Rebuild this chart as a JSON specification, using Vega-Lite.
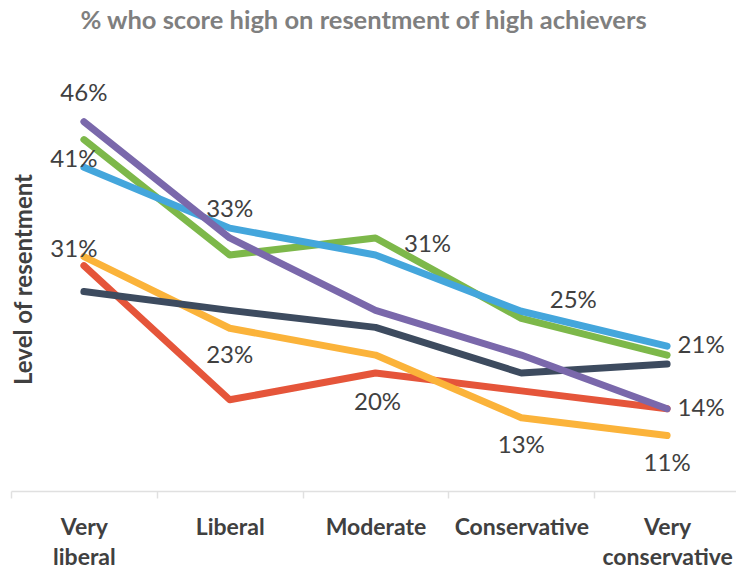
{
  "$schema": "https://vega.github.io/schema/vega-lite/v6.json",
  "autosize": "none",
  "width": 729,
  "height": 431,
  "padding": {"left": 11, "top": 60, "right": 0, "bottom": 78},
  "background": "white",
  "config": {"view": {"stroke": null}, "font": "Lato"},
  "title": {
    "text": "% who score high on resentment of high achievers",
    "font": "Lato",
    "fontSize": 25.5,
    "fontWeight": "bold",
    "color": "#7f7f7f",
    "anchor": "middle",
    "baseline": "alphabetic",
    "offset": 6,
    "dx": -12
  },
  "data": {
    "values": [
      {"series": "Group 1", "category": "Very liberal", "value": 30},
      {"series": "Group 1", "category": "Liberal", "value": 15},
      {"series": "Group 1", "category": "Moderate", "value": 18},
      {"series": "Group 1", "category": "Conservative", "value": 16},
      {"series": "Group 1", "category": "Very conservative", "value": 14},
      {"series": "Group 2", "category": "Very liberal", "value": 31, "label": "31%", "pos": "upperLeft"},
      {"series": "Group 2", "category": "Liberal", "value": 23, "label": "23%", "pos": "below"},
      {"series": "Group 2", "category": "Moderate", "value": 20, "label": "20%", "pos": "farBelow"},
      {"series": "Group 2", "category": "Conservative", "value": 13, "label": "13%", "pos": "below"},
      {"series": "Group 2", "category": "Very conservative", "value": 11, "label": "11%", "pos": "below"},
      {"series": "Group 3", "category": "Very liberal", "value": 27.1},
      {"series": "Group 3", "category": "Liberal", "value": 25},
      {"series": "Group 3", "category": "Moderate", "value": 23.1},
      {"series": "Group 3", "category": "Conservative", "value": 18},
      {"series": "Group 3", "category": "Very conservative", "value": 19},
      {"series": "Group 4", "category": "Very liberal", "value": 44.1},
      {"series": "Group 4", "category": "Liberal", "value": 31.2},
      {"series": "Group 4", "category": "Moderate", "value": 33.1},
      {"series": "Group 4", "category": "Conservative", "value": 24.1},
      {"series": "Group 4", "category": "Very conservative", "value": 20},
      {"series": "Group 5", "category": "Very liberal", "value": 41, "label": "41%", "pos": "upperLeft"},
      {"series": "Group 5", "category": "Liberal", "value": 34.2},
      {"series": "Group 5", "category": "Moderate", "value": 31.2, "label": "31%", "pos": "upperRight"},
      {"series": "Group 5", "category": "Conservative", "value": 24.9, "label": "25%", "pos": "upperRight"},
      {"series": "Group 5", "category": "Very conservative", "value": 21, "label": "21%", "pos": "right"},
      {"series": "Group 6", "category": "Very liberal", "value": 46.1, "label": "46%", "pos": "above"},
      {"series": "Group 6", "category": "Liberal", "value": 33.1, "label": "33%", "pos": "above"},
      {"series": "Group 6", "category": "Moderate", "value": 25},
      {"series": "Group 6", "category": "Conservative", "value": 20},
      {"series": "Group 6", "category": "Very conservative", "value": 14, "label": "14%", "pos": "right"}
    ]
  },
  "encoding": {
    "x": {
      "field": "category",
      "type": "nominal",
      "sort": ["Very liberal", "Liberal", "Moderate", "Conservative", "Very conservative"],
      "bandPosition": 0.5,
      "scale": {"type": "band", "paddingInner": 0, "paddingOuter": 0},
      "axis": {
        "title": null,
        "labelAngle": 0,
        "labelExpr": "split(datum.label, ' ')",
        "labelFont": "Lato",
        "labelFontSize": 23,
        "labelFontWeight": "bold",
        "labelColor": "#404040",
        "labelLineHeight": 30,
        "labelPadding": 18,
        "tickBand": "extent",
        "tickSize": 7,
        "tickColor": "#e0e0e0",
        "tickWidth": 1.5,
        "domainColor": "#e0e0e0",
        "domainWidth": 1.5,
        "grid": false
      }
    },
    "y": {
      "field": "value",
      "type": "quantitative",
      "scale": {"domain": [4.8, 53], "nice": false, "zero": false},
      "axis": {
        "title": "Level of resentment",
        "titleFont": "Lato",
        "titleFontSize": 24,
        "titleFontWeight": "bold",
        "titleColor": "#404040",
        "titleAngle": -90,
        "titleAlign": "center",
        "titleBaseline": "middle",
        "titleX": 13,
        "titleY": 219,
        "labels": false,
        "ticks": false,
        "domain": false,
        "grid": false
      }
    }
  },
  "layer": [
    {
      "mark": {"type": "line", "strokeWidth": 7, "strokeCap": "round", "strokeJoin": "round"},
      "encoding": {
        "color": {
          "field": "series",
          "type": "nominal",
          "legend": null,
          "scale": {
            "domain": ["Group 1", "Group 2", "Group 3", "Group 4", "Group 5", "Group 6"],
            "range": ["#e5553a", "#fbb33a", "#3d4b5f", "#7db84a", "#44a6dc", "#7a68ab"]
          }
        }
      }
    },
    {
      "transform": [{"filter": "datum.pos === 'above'"}],
      "mark": {"type": "text", "font": "Lato", "fontSize": 24, "color": "#404040", "align": "center", "baseline": "middle", "dy": -28},
      "encoding": {"text": {"field": "label"}}
    },
    {
      "transform": [{"filter": "datum.pos === 'below'"}],
      "mark": {"type": "text", "font": "Lato", "fontSize": 24, "color": "#404040", "align": "center", "baseline": "middle", "dy": 28},
      "encoding": {"text": {"field": "label"}}
    },
    {
      "transform": [{"filter": "datum.pos === 'farBelow'"}],
      "mark": {"type": "text", "font": "Lato", "fontSize": 24, "color": "#404040", "align": "center", "baseline": "middle", "dy": 48, "dx": 2},
      "encoding": {"text": {"field": "label"}}
    },
    {
      "transform": [{"filter": "datum.pos === 'upperLeft'"}],
      "mark": {"type": "text", "font": "Lato", "fontSize": 24, "color": "#404040", "align": "center", "baseline": "middle", "dy": -7, "dx": -10},
      "encoding": {"text": {"field": "label"}}
    },
    {
      "transform": [{"filter": "datum.pos === 'upperRight'"}],
      "mark": {"type": "text", "font": "Lato", "fontSize": 24, "color": "#404040", "align": "center", "baseline": "middle", "dy": -10, "dx": 52},
      "encoding": {"text": {"field": "label"}}
    },
    {
      "transform": [{"filter": "datum.pos === 'right'"}],
      "mark": {"type": "text", "font": "Lato", "fontSize": 24, "color": "#404040", "align": "center", "baseline": "middle", "dx": 34},
      "encoding": {"text": {"field": "label"}}
    }
  ]
}
